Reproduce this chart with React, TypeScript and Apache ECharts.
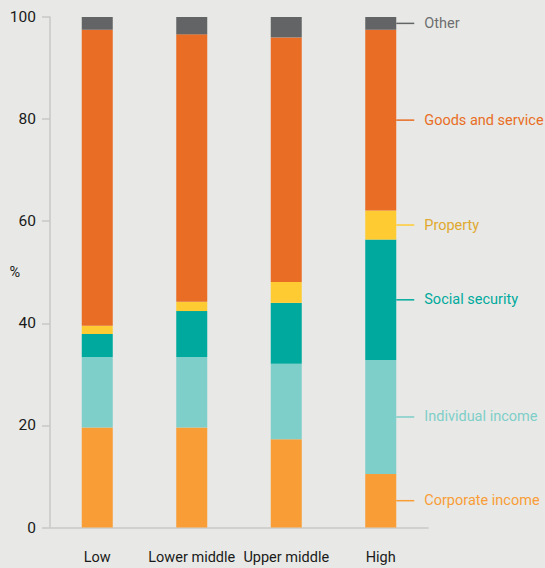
import React, { useEffect, useRef } from "react";
import * as echarts from "echarts";

const categories = ["Low", "Lower middle", "Upper middle", "High"];
const seriesNames = ["Corporate income", "Individual income", "Social security", "Property", "Goods and service", "Other"];
const corporate = [19.6, 19.6, 17.3, 10.5];
const individual = [13.8, 13.8, 14.8, 22.3];
const social = [4.5, 9.0, 11.9, 23.6];
const property = [1.6, 1.8, 4.1, 5.7];
const goods = [58.0, 52.4, 47.9, 35.4];
const other = [2.5, 3.4, 4.0, 2.5];
const yTicks = [0, 20, 40, 60, 80, 100];

const barColors = ["#f99d36", "#7ecec9", "#00a99d", "#ffcb33", "#e96d24", "#636466"];
const labelColors = ["#f99d36", "#7ecec9", "#00a99d", "#e0a82e", "#e96d24", "#6d6e70"];

const FONT = "Roboto, 'Noto Sans', sans-serif";
const BAR_W = 31;

export default function App() {
  const ref = useRef<HTMLDivElement>(null);
  useEffect(() => {
    document.body.style.margin = "0";
    const chart = echarts.init(ref.current!, null, { renderer: "svg" });
    const all = [corporate, individual, social, property, goods, other];
    const last = categories.length - 1;
    const series: any[] = all.map((vals, si) => ({
      name: seriesNames[si],
      type: "bar",
      stack: "total",
      barWidth: BAR_W,
      itemStyle: { color: barColors[si] },
      data: vals.map((v, i) =>
        i === last
          ? {
              value: v,
              label: {
                show: true,
                position: "right",
                distance: 28,
                formatter: seriesNames[si],
                color: labelColors[si],
                fontFamily: FONT,
                fontSize: 14.5,
              },
            }
          : v
      ),
    }));
    // leader lines at the midpoints of the last bar's segments
    let cum = 0;
    const leaderData = all.map((vals, si) => {
      const mid = cum + vals[last] / 2;
      cum += vals[last];
      return [last, mid, si];
    });
    series.push({
      type: "custom",
      silent: true,
      z: 5,
      data: leaderData,
      renderItem: (params: any, api: any) => {
        const p = api.coord([api.value(0), api.value(1)]);
        const x0 = p[0] + BAR_W / 2;
        const ci = api.value(2);
        return {
          type: "line",
          shape: { x1: x0, y1: p[1], x2: x0 + 18, y2: p[1] },
          style: { stroke: barColors[ci], lineWidth: 1.5 },
        };
      },
    });
    chart.setOption({
      animation: false,
      backgroundColor: "#e8e9e6",
      grid: { left: 50, right: 117, top: 17, bottom: 40.5, containLabel: false, outerBoundsMode: "none" },
      xAxis: {
        type: "category",
        data: categories,
        axisLine: { lineStyle: { color: "#c8c9c7", width: 1.5 } },
        axisTick: { show: false },
        axisLabel: { color: "#1a1a1a", fontFamily: FONT, fontSize: 14.5, margin: 22, interval: 0 },
      },
      yAxis: {
        type: "value",
        min: yTicks[0],
        max: yTicks[yTicks.length - 1],
        interval: 20,
        name: "%",
        nameLocation: "middle",
        nameRotate: 0,
        nameGap: 30,
        nameMoveOverlap: false,
        nameTextStyle: { color: "#1a1a1a", fontFamily: FONT, fontSize: 14.5 },
        axisLine: { show: true, lineStyle: { color: "#c8c9c7", width: 1.5 } },
        axisTick: { show: true, length: 8, lineStyle: { color: "#c8c9c7", width: 1.5 } },
        splitLine: { show: false },
        axisLabel: { color: "#1a1a1a", fontFamily: FONT, fontSize: 15.5, margin: 14 },
      },
      series,
    });
    return () => chart.dispose();
  }, []);
  return <div ref={ref} style={{ width: 545, height: 568 }} />;
}
